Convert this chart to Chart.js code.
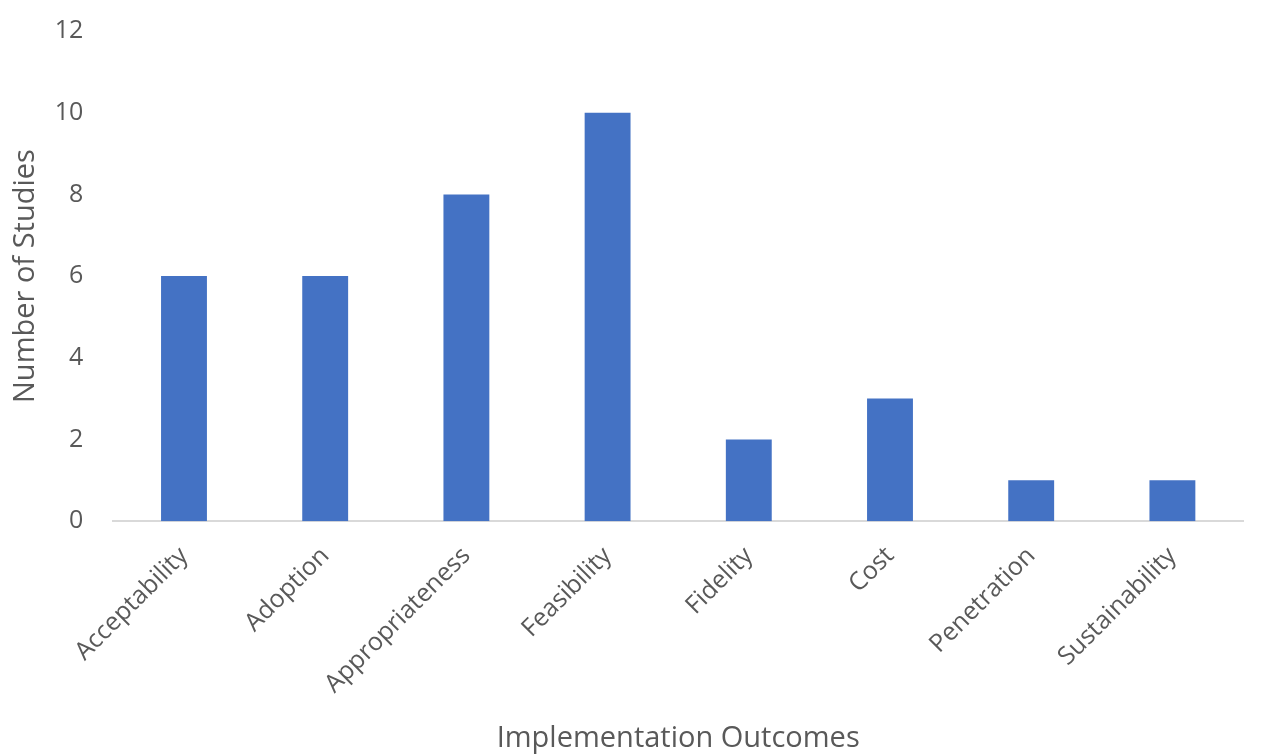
<!DOCTYPE html>
<html>
<head>
<meta charset="utf-8">
<script src="https://cdn.jsdelivr.net/npm/chart.js@4/dist/chart.umd.min.js"></script>
<style>
  html, body { margin: 0; padding: 0; background: #fff; }
  #wrap { width: 1261px; height: 756px; }
</style>
</head>
<body>
<div id="wrap"><canvas id="chart"></canvas></div>
<script>
const outcomes = ["Acceptability", "Adoption", "Appropriateness", "Feasibility", "Fidelity", "Cost", "Penetration", "Sustainability"];
const studyCounts = [6, 6, 8, 10, 2, 3, 1, 1];
const yTicks = [0, 2, 4, 6, 8, 10, 12];

const textColor = "#595959";
const fontFamily = "'Open Sans', 'Noto Sans', sans-serif";

const ctx = document.getElementById("chart").getContext("2d");
new Chart(ctx, {
  type: "bar",
  data: {
    labels: outcomes,
    datasets: [
      {
        label: "Number of Studies",
        data: studyCounts,
        backgroundColor: "#4472C4",
        borderWidth: 0,
        categoryPercentage: 1,
        barPercentage: 0.325,
      },
    ],
  },
  options: {
    responsive: true,
    maintainAspectRatio: false,
    animation: false,
    layout: { padding: { top: 31, right: 18, bottom: 0, left: 8 } },
    plugins: {
      legend: { display: false },
      tooltip: { enabled: false },
    },
    scales: {
      x: {
        grid: { display: false },
        border: { display: true, color: "#d9d9d9", width: 2 },
        afterFit: (scale) => {
          // let the y axis decide the left edge, like the original
          scale.paddingLeft = 0;
        },
        ticks: {
          color: textColor,
          font: { family: fontFamily, size: 25 },
          minRotation: 45,
          maxRotation: 45,
          padding: 12,
        },
        title: {
          display: true,
          text: "Implementation Outcomes",
          color: textColor,
          font: { family: fontFamily, size: 29 },
          padding: { top: 10, bottom: 0 },
        },
      },
      y: {
        min: 0,
        max: 12,
        afterBuildTicks: (scale) => {
          scale.ticks = yTicks.map((v) => ({ value: v }));
        },
        afterFit: (scale) => {
          scale.width -= 16;
          scale.paddingTop = 0;
        },
        grid: { display: false },
        border: { display: false },
        ticks: {
          color: textColor,
          font: { family: fontFamily, size: 25 },
          padding: 22,
        },
        title: {
          display: true,
          text: "Number of Studies",
          color: textColor,
          font: { family: fontFamily, size: 29 },
          padding: { top: 0, bottom: 6 },
        },
      },
    },
  },
});
</script>
</body>
</html>
